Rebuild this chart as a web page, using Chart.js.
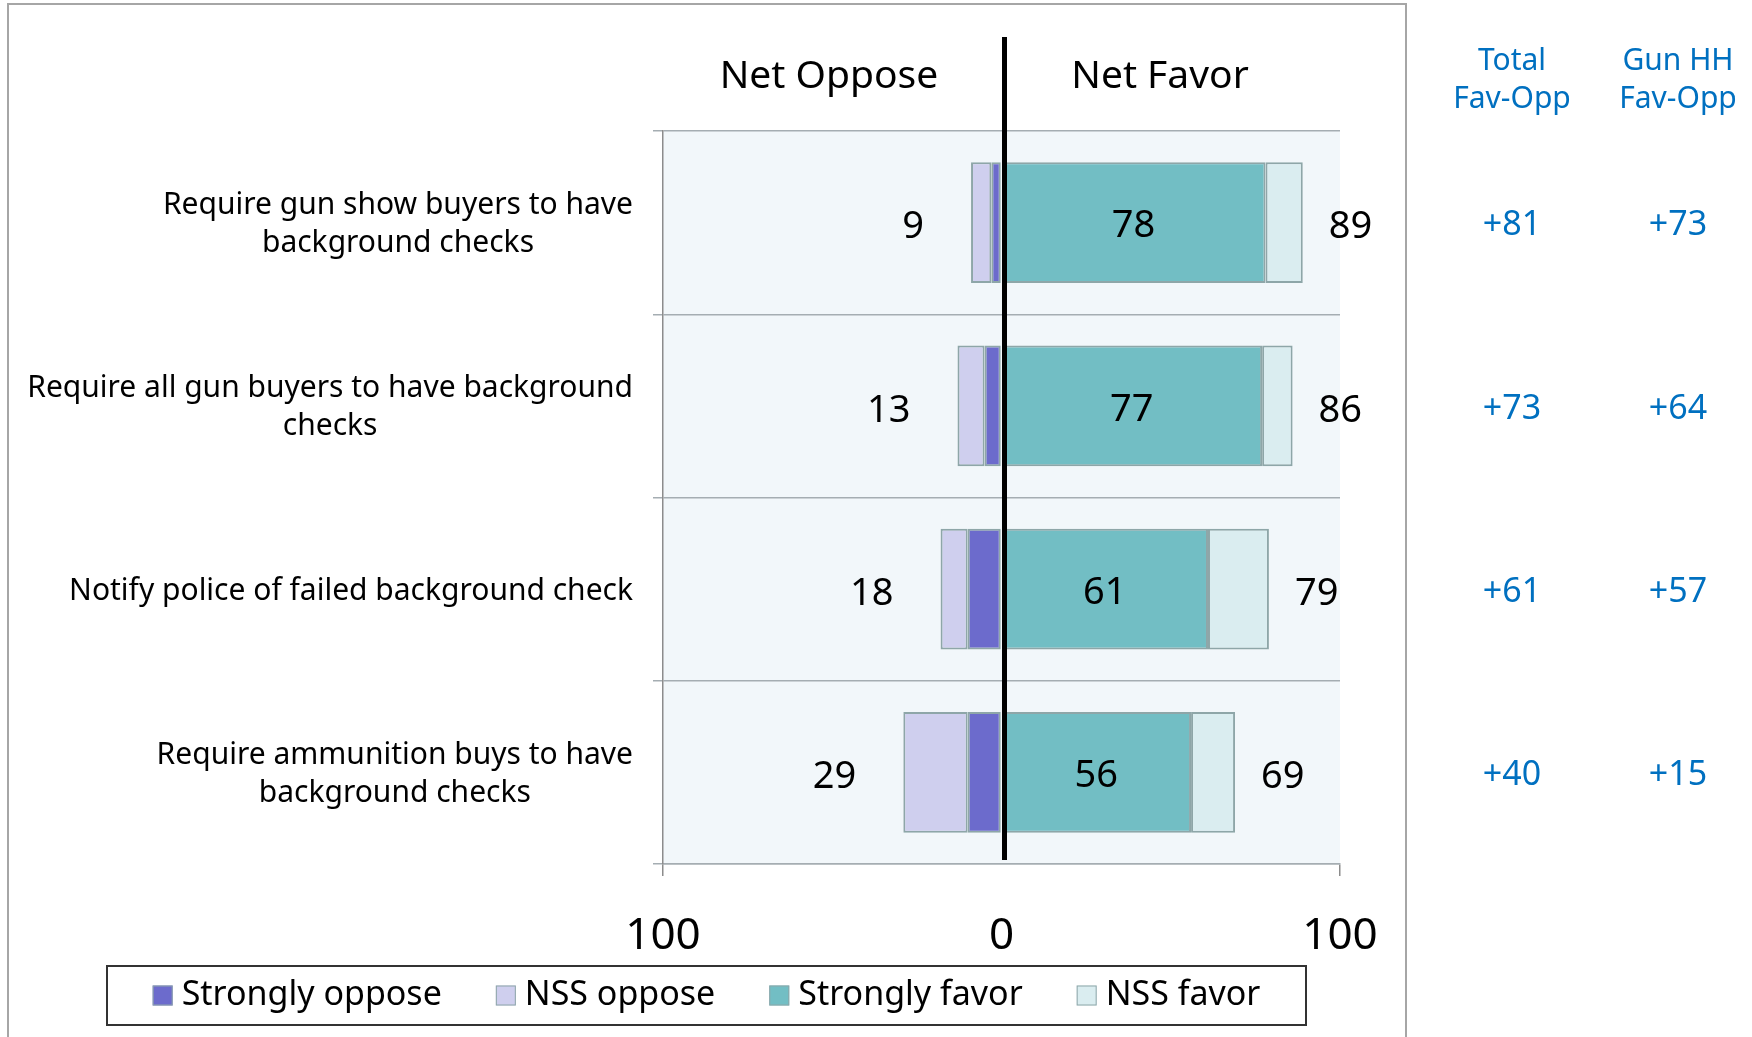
<!DOCTYPE html>
<html>
<head>
<meta charset="utf-8">
<script src="https://cdn.jsdelivr.net/npm/chart.js@4"></script>
<style>
  html, body { margin: 0; padding: 0; background: #fff; }
</style>
</head>
<body>
<canvas id="chart" width="1752" height="1037"></canvas>
<script>
// categories (top to bottom)
const categories = [
  ["Require gun show buyers to have", "background checks"],
  ["Require all gun buyers to have background", "checks"],
  ["Notify police of failed background check"],
  ["Require ammunition buys to have", "background checks"],
];
const stronglyOppose = [3, 5, 10, 10];
const nssOppose = [6, 8, 8, 19];
const stronglyFavor = [78, 77, 61, 56];
const nssFavor = [11, 9, 18, 13];
const netOppose = [9, 13, 18, 29];
const netFavor = [89, 86, 79, 69];
const totalFavOpp = ["+81", "+73", "+61", "+40"];
const gunHHFavOpp = ["+73", "+64", "+57", "+15"];
const xTicks = [-100, 0, 100];

const FONT = '"Noto Sans", "Open Sans", sans-serif';
const BLUE = "#0070c0";

function drawText(ctx, s, x, y, size, color, align) {
  ctx.font = size + "px " + FONT;
  ctx.fillStyle = color;
  ctx.textAlign = align || "center";
  ctx.textBaseline = "middle";
  ctx.fillText(s, x, y);
}

const decor = {
  id: "decor",
  beforeDraw(chart) {
    const { ctx, chartArea: a } = chart;
    ctx.save();
    ctx.fillStyle = "#fff";
    ctx.fillRect(0, 0, chart.width, chart.height);
    ctx.strokeStyle = "#a6a6a6";
    ctx.lineWidth = 2;
    ctx.strokeRect(8, 4, 1398, 1100);
    ctx.fillStyle = "#f2f7fa";
    ctx.fillRect(a.left, a.top, a.right - a.left, a.bottom - a.top);
    ctx.restore();
  },
  afterDatasetsDraw(chart) {
    const { ctx, chartArea: a } = chart;
    const xs = chart.scales.x;
    const ys = chart.scales.y;
    const x0 = xs.getPixelForValue(0);
    ctx.save();

    // category labels, lines centred in a block right-aligned to the axis
    ctx.font = "30px " + FONT;
    categories.forEach((lines, i) => {
      const yc = ys.getPixelForValue(i) + 2;
      const w = Math.max(...lines.map((l) => ctx.measureText(l).width));
      const cx = a.left - 30 - w / 2;
      const lh = 38;
      lines.forEach((l, j) => {
        drawText(ctx, l, cx, yc + (j - (lines.length - 1) / 2) * lh, 30, "#000");
      });
    });

    // value labels
    categories.forEach((_, i) => {
      const yc = ys.getPixelForValue(i) + 5;
      const left = xs.getPixelForValue(-netOppose[i]);
      const right = xs.getPixelForValue(stronglyFavor[i] + nssFavor[i]);
      drawText(ctx, String(netOppose[i]), left - 47, yc, 38, "#000", "right");
      drawText(ctx, String(netFavor[i]), right + 26, yc, 38, "#000", "left");
      const mid = xs.getPixelForValue(stronglyFavor[i] / 2);
      drawText(ctx, String(stronglyFavor[i]), mid, yc - 1, 38, "#000");
      drawText(ctx, totalFavOpp[i], 1512, yc - 2, 34, BLUE);
      drawText(ctx, gunHHFavOpp[i], 1678, yc - 2, 34, BLUE);
    });

    // zero line
    ctx.strokeStyle = "#000";
    ctx.lineWidth = 5;
    ctx.beginPath();
    ctx.moveTo(x0 + 3, a.top - 94);
    ctx.lineTo(x0 + 3, a.bottom - 4);
    ctx.stroke();

    // headers
    drawText(ctx, "Net Oppose", 829, 77, 39, "#000");
    drawText(ctx, "Net Favor", 1160, 77, 39, "#000");
    drawText(ctx, "Total", 1512, 61, 30, BLUE);
    drawText(ctx, "Fav-Opp", 1512, 99, 30, BLUE);
    drawText(ctx, "Gun HH", 1678, 61, 30, BLUE);
    drawText(ctx, "Fav-Opp", 1678, 99, 30, BLUE);

    // legend
    const bx = 107, by = 966, bw = 1199, bh = 59;
    ctx.strokeStyle = "#333";
    ctx.lineWidth = 2;
    ctx.strokeRect(bx, by, bw, bh);
    const fs = 34;
    ctx.font = fs + "px " + FONT;
    const sq = 20, gapIn = 9, gapOut = 54;
    const items = chart.data.datasets.map((d) => ({ label: d.label, color: d.backgroundColor, w: ctx.measureText(d.label).width }));
    const total = items.reduce((s, it) => s + sq + gapIn + it.w, 0) + gapOut * (items.length - 1);
    let x = bx + (bw - total) / 2;
    const ly = by + bh / 2;
    items.forEach((it) => {
      ctx.fillStyle = it.color;
      ctx.fillRect(x, ly - sq / 2, sq, sq);
      ctx.strokeStyle = "#8ea6a8";
      ctx.lineWidth = 1;
      ctx.strokeRect(x + 0.5, ly - sq / 2 + 0.5, sq - 1, sq - 1);
      drawText(ctx, it.label, x + sq + gapIn, ly, fs, "#000", "left");
      x += sq + gapIn + it.w + gapOut;
    });
    ctx.restore();
  },
};

const barStyle = {
  borderColor: "#8ea6a8",
  borderWidth: 2,
  borderSkipped: false,
  categoryPercentage: 1,
  barPercentage: 0.66,
};

new Chart(document.getElementById("chart"), {
  type: "bar",
  data: {
    labels: categories,
    datasets: [
      { label: "Strongly oppose", data: stronglyOppose.map((v) => -v), backgroundColor: "#6c6bcc", ...barStyle },
      { label: "NSS oppose", data: nssOppose.map((v) => -v), backgroundColor: "#cfcfee", ...barStyle },
      { label: "Strongly favor", data: stronglyFavor, backgroundColor: "#72bec4", ...barStyle },
      { label: "NSS favor", data: nssFavor, backgroundColor: "#daedf0", ...barStyle },
    ],
  },
  options: {
    indexAxis: "y",
    responsive: false,
    animation: false,
    layout: { padding: { top: 131, right: 412, bottom: 73, left: 0 } },
    plugins: { legend: { display: false }, tooltip: { enabled: false } },
    scales: {
      x: {
        stacked: true,
        min: -100,
        max: 100,
        afterBuildTicks: (s) => { s.ticks = xTicks.map((v) => ({ value: v })); },
        ticks: {
          callback: (v) => Math.abs(v),
          font: { size: 44, family: FONT },
          color: "#000",
          padding: 34,
          maxRotation: 0,
        },
        grid: {
          drawOnChartArea: false,
          tickLength: 12,
          lineWidth: 1.5,
          tickColor: (c) => (c.tick && c.tick.value === 0 ? "rgba(0,0,0,0)" : "#8c8c8c"),
        },
        border: { display: true, color: "#a5adb2", width: 1.5 },
        afterFit: (s) => { s.height = 100; },
      },
      y: {
        stacked: true,
        ticks: { display: false },
        grid: { color: "#a5adb2", tickLength: 10, lineWidth: 1.5, offset: true },
        border: { color: "#8c8c8c", width: 1.5 },
        afterFit: (s) => { s.width = 663; },
      },
    },
  },
  plugins: [decor],
});
</script>
</body>
</html>
